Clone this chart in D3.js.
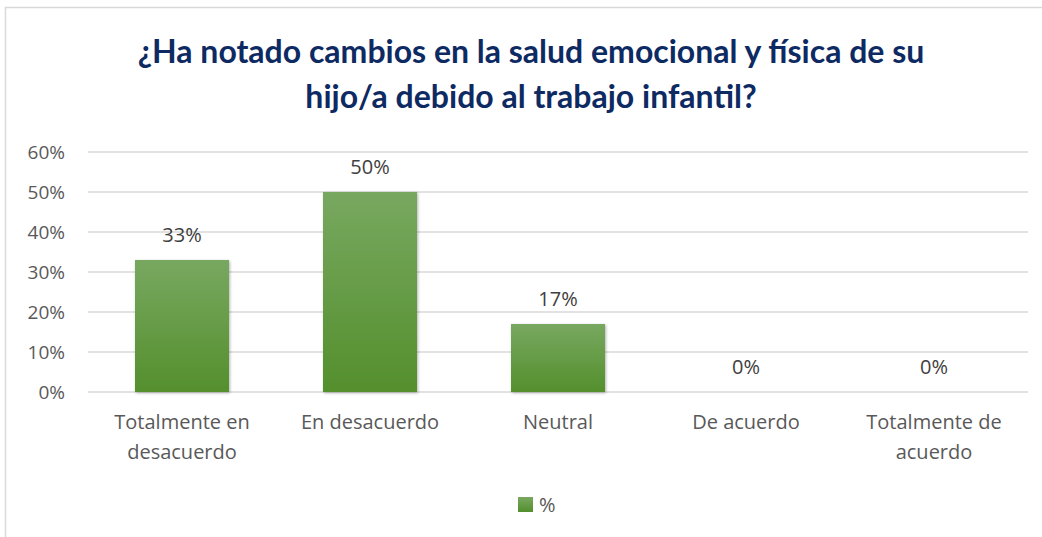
<!DOCTYPE html>
<html>
<head>
<meta charset="utf-8">
<script src="https://cdn.jsdelivr.net/npm/d3@7"></script>
<style>
  body { margin: 0; background: #fff; }
  svg { display: block; }
  .tick text { fill: #595959; font-family: "Open Sans", sans-serif; font-size: 19px; }
</style>
</head>
<body>
<div id="wrapper"></div>
<script>
const titleLines = ["¿Ha notado cambios en la salud emocional y física de su", "hijo/a debido al trabajo infantil?"] ;
const categories = ["Totalmente en desacuerdo", "En desacuerdo", "Neutral", "De acuerdo", "Totalmente de acuerdo"] ;
const categoryLines = [["Totalmente en", "desacuerdo"], ["En desacuerdo"], ["Neutral"], ["De acuerdo"], ["Totalmente de", "acuerdo"]] ;
const values = [0.33, 0.50, 0.17, 0, 0] ;
const yTicks = [0, 0.1, 0.2, 0.3, 0.4, 0.5, 0.6] ;
const seriesName = "%" ;

let dimensions = {
  width: 1042,
  height: 537,
  margin: { top: 152, right: 14, bottom: 145, left: 88 }
} ;
dimensions.boundedWidth = dimensions.width - dimensions.margin.left - dimensions.margin.right ;
dimensions.boundedHeight = dimensions.height - dimensions.margin.top - dimensions.margin.bottom ;

const svg = d3.select("#wrapper").append("svg")
  .attr("width", dimensions.width)
  .attr("height", dimensions.height) ;

// gradient + shadow for the bars
const defs = svg.append("defs") ;
const grad = defs.append("linearGradient")
  .attr("id", "barGrad").attr("x1", 0).attr("y1", 0).attr("x2", 0).attr("y2", 1) ;
grad.append("stop").attr("offset", "0%").attr("stop-color", "#78a860") ;
grad.append("stop").attr("offset", "100%").attr("stop-color", "#548f2d") ;
const shadow = defs.append("filter").attr("id", "shadow")
  .attr("x", "-10%").attr("y", "-10%").attr("width", "130%").attr("height", "130%") ;
shadow.append("feDropShadow").attr("dx", 1).attr("dy", 1).attr("stdDeviation", 1.5)
  .attr("flood-color", "#000").attr("flood-opacity", 0.3) ;

// outer frame
svg.append("rect")
  .attr("x", 5.5).attr("y", 7.5)
  .attr("width", 1050).attr("height", 540)
  .attr("fill", "none").attr("stroke", "#d9d9d9").attr("stroke-width", 1.5) ;

// title
svg.append("text")
  .attr("x", 531).attr("y", 63)
  .attr("text-anchor", "middle")
  .attr("fill", "#0e2a63")
  .style("font-family", "Lato, sans-serif")
  .style("font-weight", "bold")
  .style("font-size", "32px")
  .selectAll("tspan").data(titleLines).enter().append("tspan")
    .attr("x", 531)
    .attr("dy", (d, i) => i == 0 ? 0 : 45)
    .text((d) => d) ;

const bounds = svg.append("g")
  .attr("transform", `translate(${dimensions.margin.left}, ${dimensions.margin.top})`) ;

const xScale = d3.scaleBand()
  .domain(categories)
  .range([0, dimensions.boundedWidth])
  .paddingInner(0.5)
  .paddingOuter(0.25) ;

const yScale = d3.scaleLinear()
  .domain([0, 0.6])
  .range([dimensions.boundedHeight, 0]) ;

// gridlines
bounds.append("g").selectAll("line")
  .data(yTicks)
  .enter().append("line")
    .attr("x1", 0).attr("x2", dimensions.boundedWidth)
    .attr("y1", (d) => yScale(d)).attr("y2", (d) => yScale(d))
    .attr("stroke", "#d9d9d9").attr("stroke-width", 1.5) ;

// y axis labels
const yAxis = bounds.append("g")
  .call(d3.axisLeft(yScale).tickValues(yTicks).tickFormat(d3.format(".0%")).tickSize(0).tickPadding(23)) ;
yAxis.select(".domain").remove() ;

// bars
bounds.selectAll("rect.bar")
  .data(values)
  .enter().append("rect")
    .attr("class", "bar")
    .attr("x", (d, i) => xScale(categories[i]))
    .attr("y", (d) => yScale(d))
    .attr("width", xScale.bandwidth())
    .attr("height", (d) => dimensions.boundedHeight - yScale(d))
    .attr("fill", "url(#barGrad)")
    .attr("filter", "url(#shadow)") ;

// data labels
bounds.selectAll("text.lbl")
  .data(values)
  .enter().append("text")
    .attr("class", "lbl")
    .attr("x", (d, i) => xScale(categories[i]) + xScale.bandwidth() / 2)
    .attr("y", (d) => yScale(d) - 18)
    .attr("text-anchor", "middle")
    .attr("fill", "#404040")
    .style("font-family", "Open Sans, sans-serif")
    .style("font-size", "20px")
    .text((d) => d3.format(".0%")(d)) ;

// category labels
const catGroup = bounds.append("g")
  .attr("transform", `translate(0, ${dimensions.boundedHeight})`) ;
categories.forEach((c, i) => {
  catGroup.append("text")
    .attr("text-anchor", "middle")
    .attr("fill", "#595959")
    .style("font-family", "Open Sans, sans-serif")
    .style("font-size", "20px")
    .selectAll("tspan").data(categoryLines[i]).enter().append("tspan")
      .attr("x", xScale(c) + xScale.bandwidth() / 2)
      .attr("y", (d, j) => 37 + j * 30)
      .text((d) => d) ;
}) ;

// legend
const legend = svg.append("g").attr("transform", "translate(518, 497)") ;
legend.append("rect")
  .attr("width", 15).attr("height", 15)
  .attr("fill", "url(#barGrad)") ;
legend.append("text")
  .attr("x", 21).attr("y", 15)
  .attr("fill", "#595959")
  .style("font-family", "Open Sans, sans-serif")
  .style("font-size", "20px")
  .text(seriesName) ;
</script>
</body>
</html>
